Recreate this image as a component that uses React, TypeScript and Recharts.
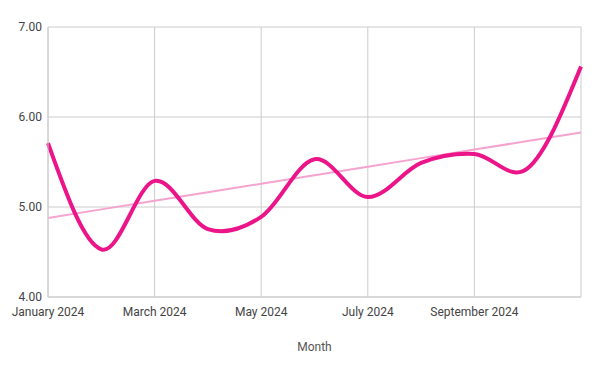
import React from 'react';
import { LineChart, Line, XAxis, YAxis, CartesianGrid } from 'recharts';

const months = [
  'January 2024', 'February 2024', 'March 2024', 'April 2024', 'May 2024', 'June 2024',
  'July 2024', 'August 2024', 'September 2024', 'October 2024', 'November 2024',
];
const values = [5.71, 4.53, 5.29, 4.755, 4.89, 5.53, 5.11, 5.49, 5.59, 5.43, 6.56];
const xTicks = ['January 2024', 'March 2024', 'May 2024', 'July 2024', 'September 2024', 'November 2024'];
const yTicks = [4, 5, 6, 7];

// least-squares trendline over the month index
const n = values.length;
const meanX = (n - 1) / 2;
const meanY = values.reduce((a, b) => a + b, 0) / n;
const slope =
  values.reduce((s, v, i) => s + (i - meanX) * (v - meanY), 0) /
  values.reduce((s, _v, i) => s + (i - meanX) * (i - meanX), 0);
const intercept = meanY - slope * meanX;

const data = months.map((month, i) => ({
  month,
  value: values[i],
  trend: intercept + slope * i,
}));

// catmull-rom style spline with natural (zero-curvature) ends
const smoothCurve = (context: any) => {
  let pts: number[][] = [];
  return {
    areaStart() {},
    areaEnd() {},
    lineStart() {
      pts = [];
    },
    point(x: number, y: number) {
      pts.push([+x, +y]);
    },
    lineEnd() {
      const len = pts.length;
      if (!len) return;
      context.moveTo(pts[0][0], pts[0][1]);
      if (len < 3) {
        for (let i = 1; i < len; i++) context.lineTo(pts[i][0], pts[i][1]);
        return;
      }
      const m: number[][] = pts.map((_p, i) =>
        i > 0 && i < len - 1
          ? [(pts[i + 1][0] - pts[i - 1][0]) / 2, (pts[i + 1][1] - pts[i - 1][1]) / 2]
          : [0, 0]
      );
      m[0] = [0, 1].map((k) => 1.5 * (pts[1][k] - pts[0][k]) - 0.5 * m[1][k]);
      m[len - 1] = [0, 1].map((k) => 1.5 * (pts[len - 1][k] - pts[len - 2][k]) - 0.5 * m[len - 2][k]);
      for (let i = 0; i < len - 1; i++) {
        const a = pts[i];
        const b = pts[i + 1];
        context.bezierCurveTo(
          a[0] + m[i][0] / 3, a[1] + m[i][1] / 3,
          b[0] - m[i + 1][0] / 3, b[1] - m[i + 1][1] / 3,
          b[0], b[1]
        );
      }
    },
  };
};

const tickStyle = { fontFamily: 'Roboto', fontSize: 12, fill: '#444' };

const App: React.FC = () => {
  return (
    <div style={{ width: 600, height: 371 }}>
      <style>{'body{margin:0}'}</style>
      <LineChart width={600} height={371} data={data} margin={{ top: 27, right: 19, bottom: 0, left: 0 }}>
        <CartesianGrid stroke="#cccccc" strokeWidth={1} />
        <XAxis
          dataKey="month"
          ticks={xTicks}
          interval={0}
          tickLine={false}
          tickMargin={4}
          axisLine={{ stroke: '#cccccc' }}
          height={74}
          tick={tickStyle}
          tickFormatter={(m: string) => (m === 'November 2024' ? '' : m)}
          label={{ value: 'Month', position: 'insideBottom', offset: 20, style: { fontFamily: 'Roboto', fontSize: 12, fill: '#555' } }}
        />
        <YAxis
          domain={[4, 7]}
          ticks={yTicks}
          width={48}
          tickLine={false}
          tickSize={0}
          tickMargin={6}
          axisLine={{ stroke: '#cccccc' }}
          tick={tickStyle}
          tickFormatter={(v: number) => v.toFixed(2)}
        />
        <Line
          type="linear"
          dataKey="trend"
          stroke="#f5a3cf"
          strokeWidth={2}
          dot={false}
          activeDot={false}
          isAnimationActive={false}
        />
        <Line
          type={smoothCurve as any}
          dataKey="value"
          stroke="#ec1489"
          strokeWidth={4}
          dot={false}
          activeDot={false}
          isAnimationActive={false}
        />
      </LineChart>
    </div>
  );
};

export default App;
